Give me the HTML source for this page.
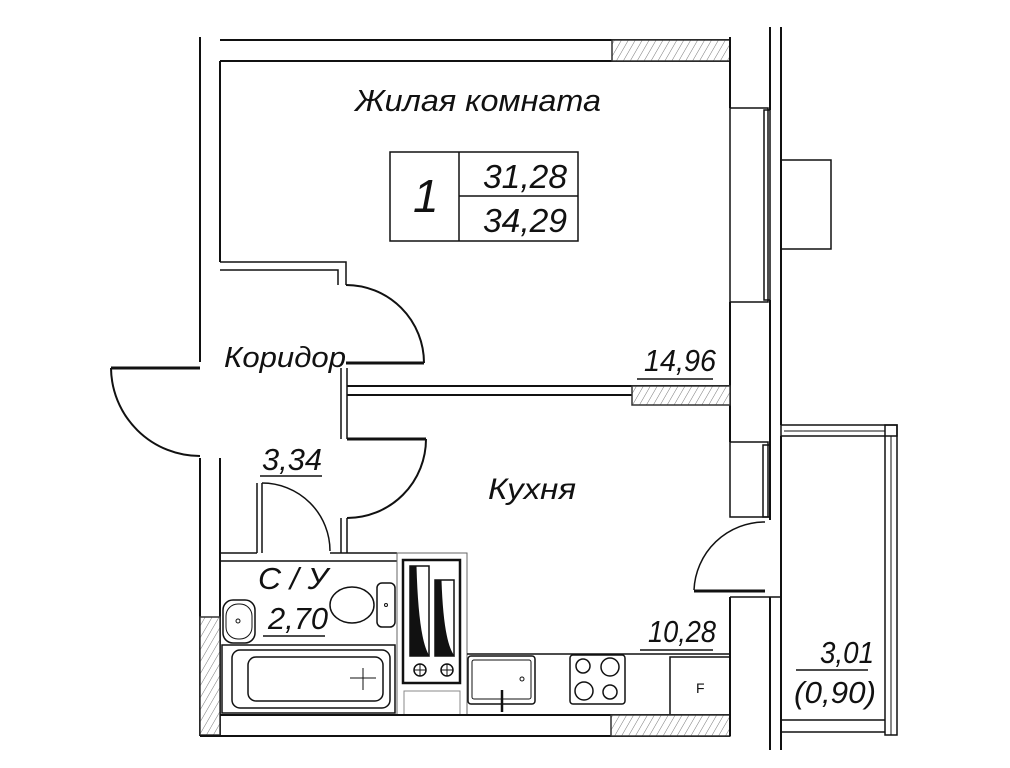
<!DOCTYPE html>
<html><head><meta charset="utf-8"><style>
html,body{margin:0;padding:0;background:#fff;}
svg{display:block;}
text{font-family:"Liberation Sans","DejaVu Sans",sans-serif;font-style:italic;fill:#111;}
</style></head><body>
<svg width="1010" height="768" viewBox="0 0 1010 768" xmlns="http://www.w3.org/2000/svg">
<defs>
<pattern id="h" width="6" height="6" patternUnits="userSpaceOnUse" patternTransform="rotate(30)">
<rect width="6" height="6" fill="#fff"/><line x1="0" y1="0" x2="0" y2="6" stroke="#777" stroke-width="1"/>
</pattern>
</defs>
<g fill="none" stroke="#111" stroke-width="2">
<line x1="220" y1="40" x2="730" y2="40"/>
<line x1="220" y1="61" x2="730" y2="61"/>
<rect x="612" y="40" width="118" height="21" fill="url(#h)" stroke="#333" stroke-width="1.5"/>
<line x1="200" y1="37" x2="200" y2="362"/>
<line x1="220" y1="61" x2="220" y2="262"/>
<line x1="730" y1="37" x2="730" y2="108"/>
<line x1="730" y1="302" x2="730" y2="442"/>
<rect x="730" y="108" width="38" height="194" stroke-width="1.5"/>
<rect x="764" y="110" width="6" height="190" stroke-width="1.5"/>
<line x1="770" y1="27" x2="770" y2="110"/>
<line x1="781" y1="27" x2="781" y2="425"/>
<line x1="770" y1="300" x2="770" y2="442"/>
<rect x="781" y="160" width="50" height="89" stroke-width="1.5"/>
<rect x="390" y="152" width="188" height="89" stroke-width="1.5"/>
<line x1="459" y1="152" x2="459" y2="241" stroke-width="1.5"/>
<line x1="459" y1="196" x2="578" y2="196" stroke-width="1.5"/>
<polyline points="220,262 346,262 346,285" stroke-width="1.5"/>
<polyline points="220,270 338,270 338,285" stroke-width="1.5"/>
<path d="M346,285 A78,78 0 0 1 424,363"/>
<line x1="346" y1="363" x2="424" y2="363" stroke-width="3"/>
<line x1="341" y1="368" x2="341" y2="439" stroke-width="1.5"/>
<line x1="347" y1="368" x2="347" y2="439" stroke-width="1.5"/>
<line x1="347" y1="386" x2="730" y2="386"/>
<line x1="347" y1="395" x2="632" y2="395"/>
<rect x="632" y="386" width="98" height="19" fill="url(#h)" stroke="#333" stroke-width="1.5"/>
<line x1="347" y1="439" x2="426" y2="439" stroke-width="3"/>
<path d="M426,439 A79,79 0 0 1 347,518"/>
<line x1="341" y1="518" x2="341" y2="553" stroke-width="1.5"/>
<line x1="347" y1="518" x2="347" y2="553" stroke-width="1.5"/>
<line x1="111" y1="368" x2="200" y2="368" stroke-width="3"/>
<path d="M111,368 A89,89 0 0 0 200,456"/>
<line x1="200" y1="458" x2="200" y2="736"/>
<line x1="220" y1="458" x2="220" y2="736"/>
<rect x="200" y="617" width="20" height="118" fill="url(#h)" stroke="#333" stroke-width="1.5"/>
<line x1="220" y1="553" x2="257" y2="553" stroke-width="1.5"/>
<line x1="220" y1="561" x2="397" y2="561" stroke-width="1.5"/>
<line x1="330" y1="553" x2="397" y2="553" stroke-width="1.5"/>
<line x1="257" y1="483" x2="257" y2="553" stroke-width="1.5"/>
<line x1="262" y1="483" x2="262" y2="553" stroke-width="1.5"/>
<path d="M262,483 A68,68 0 0 1 330,551" stroke-width="1.5"/>
<rect x="223" y="600" width="32" height="43" rx="10" stroke-width="1.5"/>
<rect x="226" y="604" width="26" height="35" rx="12" stroke-width="1"/>
<circle cx="238" cy="621" r="2" stroke-width="1"/>
<rect x="222" y="645" width="173" height="68" stroke-width="1.5"/>
<rect x="232" y="650" width="158" height="58" rx="8" stroke-width="1.5"/>
<rect x="248" y="657" width="135" height="44" rx="8" stroke-width="1.5"/>
<line x1="350" y1="678" x2="376" y2="678" stroke-width="1"/>
<line x1="363" y1="668" x2="363" y2="690" stroke-width="1"/>
<ellipse cx="352" cy="605" rx="22" ry="18" stroke-width="1.5"/>
<rect x="377" y="583" width="18" height="44" rx="5" stroke-width="1.5"/>
<circle cx="386" cy="605" r="1.5" stroke-width="1"/>
<rect x="397" y="553" width="70" height="162" stroke="#666" stroke-width="1"/>
<rect x="403" y="560" width="57" height="123" stroke-width="2.5"/>
<rect x="410" y="566" width="19" height="90" stroke-width="1.5"/>
<rect x="435" y="580" width="19" height="76" stroke-width="1.5"/>
<path d="M410,566 L416,566 Q418,640 429,656 L410,656 Z" fill="#111" stroke-width="1"/>
<path d="M435,580 L441,580 Q443,642 454,656 L435,656 Z" fill="#111" stroke-width="1"/>
<circle cx="420" cy="670" r="6" stroke-width="1.5"/>
<circle cx="447" cy="670" r="6" stroke-width="1.5"/>
<path d="M414,670h12M420,664v12M441,670h12M447,664v12" stroke-width="1"/>
<rect x="404" y="691" width="56" height="24" stroke="#888" stroke-width="1"/>
<line x1="467" y1="654" x2="730" y2="654" stroke-width="1.5"/>
<rect x="468" y="656" width="67" height="48" rx="3" stroke-width="1.5"/>
<rect x="472" y="660" width="59" height="39" rx="2" stroke-width="1"/>
<circle cx="522" cy="679" r="2" stroke-width="1"/>
<line x1="502" y1="690" x2="502" y2="712" stroke-width="2.5"/>
<rect x="570" y="655" width="55" height="49" rx="3" stroke-width="1.5"/>
<circle cx="583" cy="666" r="7" stroke-width="1.5"/>
<circle cx="610" cy="667" r="9" stroke-width="1.5"/>
<circle cx="584" cy="691" r="9" stroke-width="1.5"/>
<circle cx="610" cy="692" r="7" stroke-width="1.5"/>
<rect x="670" y="657" width="60" height="58" stroke-width="1.5"/>
<line x1="220" y1="715" x2="730" y2="715"/>
<line x1="200" y1="736" x2="730" y2="736"/>
<rect x="611" y="715" width="119" height="21" fill="url(#h)" stroke="#333" stroke-width="1.5"/>
<rect x="730" y="442" width="38" height="75" stroke-width="1.5"/>
<rect x="763" y="445" width="7" height="72" stroke-width="1.5"/>
<line x1="770" y1="442" x2="770" y2="520"/>
<path d="M765,522 A71,71 0 0 0 694,590" stroke-width="1.5"/>
<line x1="694" y1="591" x2="765" y2="591" stroke-width="3"/>
<line x1="730" y1="597" x2="730" y2="736"/>
<line x1="730" y1="597" x2="781" y2="597" stroke-width="1.5"/>
<line x1="770" y1="597" x2="770" y2="750"/>
<line x1="781" y1="436" x2="781" y2="750"/>
<rect x="781" y="425" width="116" height="11" stroke-width="1.5"/>
<rect x="885" y="425" width="12" height="310" stroke-width="1.5"/>
<line x1="891" y1="436" x2="891" y2="735" stroke-width="1"/>
<line x1="784" y1="431" x2="885" y2="431" stroke-width="1"/>
<line x1="781" y1="720" x2="885" y2="720" stroke-width="1.5"/>
<line x1="781" y1="732" x2="885" y2="732" stroke-width="1.5"/>
<line x1="637" y1="379" x2="713" y2="379" stroke-width="1.5"/>
<line x1="260" y1="476" x2="322" y2="476" stroke-width="1.5"/>
<line x1="263" y1="636" x2="325" y2="636" stroke-width="1.5"/>
<line x1="640" y1="650" x2="713" y2="650" stroke-width="1.5"/>
<line x1="796" y1="670" x2="868" y2="670" stroke-width="1.5"/>
</g>
<text x="355" y="111" font-size="31" textLength="246" lengthAdjust="spacingAndGlyphs">Жилая комната</text>
<text x="413" y="212" font-size="46">1</text>
<text x="483" y="188" font-size="33" textLength="84" lengthAdjust="spacingAndGlyphs">31,28</text>
<text x="483" y="232" font-size="33" textLength="84" lengthAdjust="spacingAndGlyphs">34,29</text>
<text x="224" y="367" font-size="29" textLength="122" lengthAdjust="spacingAndGlyphs">Коридор</text>
<text x="644" y="371" font-size="31" textLength="72" lengthAdjust="spacingAndGlyphs">14,96</text>
<text x="262" y="470" font-size="31" textLength="60" lengthAdjust="spacingAndGlyphs">3,34</text>
<text x="488" y="499" font-size="30" textLength="88" lengthAdjust="spacingAndGlyphs">Кухня</text>
<text x="258" y="589" font-size="31" textLength="70" lengthAdjust="spacingAndGlyphs">С / У</text>
<text x="268" y="629" font-size="31" textLength="60" lengthAdjust="spacingAndGlyphs">2,70</text>
<text x="648" y="642" font-size="31" textLength="68" lengthAdjust="spacingAndGlyphs">10,28</text>
<text x="820" y="663" font-size="31" textLength="54" lengthAdjust="spacingAndGlyphs">3,01</text>
<text x="794" y="703" font-size="31" textLength="82" lengthAdjust="spacingAndGlyphs">(0,90)</text>
<text x="696" y="693" font-size="14" style="font-style:normal">F</text>
</svg>
</body></html>
